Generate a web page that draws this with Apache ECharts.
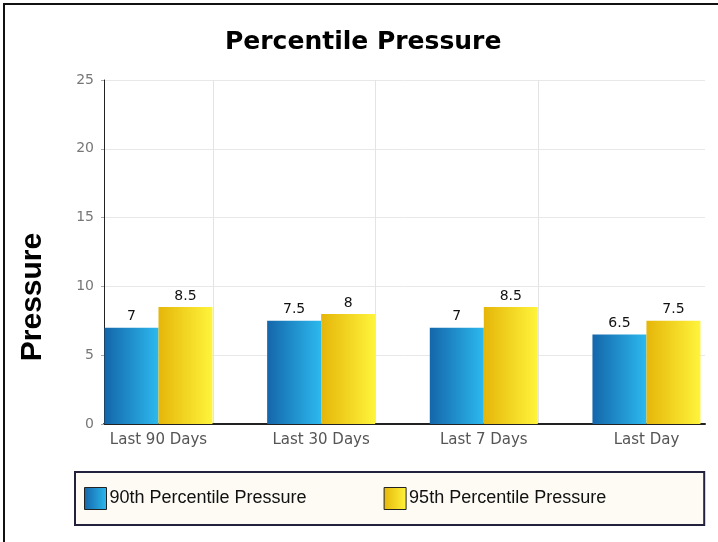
<!DOCTYPE html>
<html>
<head>
<meta charset="utf-8">
<script src="https://cdn.jsdelivr.net/npm/echarts@6/dist/echarts.min.js"></script>
<style>
html,body{margin:0;padding:0;background:#fff;}
#chart{width:718px;height:542px;}
</style>
</head>
<body>
<div id="chart"></div>
<script>
var categories = ['Last 90 Days', 'Last 30 Days', 'Last 7 Days', 'Last Day'];
var seriesNames = ['90th Percentile Pressure', '95th Percentile Pressure'];
var p90 = [7, 7.5, 7, 6.5];
var p95 = [8.5, 8, 8.5, 7.5];
var yMin = 0, yMax = 25, yStep = 5;
var categoryPositions = [0, 1, 2, 3];
var dividerPositions = [0.335, 1.335, 2.335];

function grad(c0, c1) {
  return new echarts.graphic.LinearGradient(0, 0, 1, 0, [
    {offset: 0, color: c0}, {offset: 1, color: c1}
  ]);
}
var blue = grad('#1466aa', '#2cb9ee');
var yellow = grad('#e5b60a', '#fff43c');

var chart = echarts.init(document.getElementById('chart'), null, {renderer: 'canvas'});
var labelStyle = {show: true, position: 'top', distance: 4, color: '#111',
  fontFamily: 'DejaVu Sans', fontSize: 14};

chart.setOption({
  backgroundColor: '#fff',
  animation: false,
  title: {
    text: 'Percentile Pressure', left: 220, top: 25,
    textStyle: {fontFamily: 'DejaVu Sans', fontWeight: 'bold', fontSize: 25, color: '#000'}
  },
  graphic: [{
    type: 'rect', silent: true,
    shape: {x: 4, y: 4, width: 900, height: 900},
    style: {fill: null, stroke: '#111', lineWidth: 2}
  }],
  grid: {left: 104, right: 13, top: 80, bottom: 118, containLabel: false},
  legend: {
    left: 75, top: 472, orient: 'horizontal',
    data: seriesNames,
    icon: 'rect', itemWidth: 22, itemHeight: 22, itemGap: 77,
    padding: [15, 98, 15, 9],
    backgroundColor: '#fdfbf4', borderColor: '#22223c', borderWidth: 2,
    itemStyle: {borderColor: '#222', borderWidth: 1},
    textStyle: {fontFamily: 'Liberation Sans', fontSize: 18, color: '#111', padding: [0, 0, 0, -2]}
  },
  xAxis: {
    type: 'value', min: -0.335, max: 3.36,
    axisLine: {show: true, onZero: false, lineStyle: {color: '#222', width: 2}},
    axisTick: {show: false, customValues: dividerPositions},
    splitLine: {show: true, lineStyle: {color: '#e4e4e4', width: 1}},
    axisLabel: {
      customValues: categoryPositions, margin: 9,
      color: '#555', fontFamily: 'DejaVu Sans', fontSize: 15,
      formatter: function (v) { return categories[Math.round(v)]; }
    }
  },
  yAxis: {
    type: 'value', min: yMin, max: yMax, interval: yStep,
    name: 'Pressure', nameLocation: 'middle', nameGap: 56,
    nameTextStyle: {fontFamily: 'Liberation Sans', fontWeight: 'bold', fontSize: 30, color: '#000', padding: [0, 90, 0, 0]},
    axisLine: {show: true, onZero: false, lineStyle: {color: '#222', width: 1}},
    axisTick: {show: true, length: 3, lineStyle: {color: '#aaa'}},
    splitLine: {show: true, lineStyle: {color: '#e8e8e8'}},
    axisLabel: {color: '#777', fontFamily: 'DejaVu Sans', fontSize: 14, margin: 10}
  },
  series: [{
    name: seriesNames[0], type: 'bar', barWidth: 54, barGap: '0%',
    itemStyle: {color: blue},
    label: labelStyle,
    data: p90.map(function (v, i) { return [categoryPositions[i], v]; })
  }, {
    name: seriesNames[1], type: 'bar', barWidth: 54, barGap: '0%',
    itemStyle: {color: yellow},
    label: labelStyle,
    data: p95.map(function (v, i) { return [categoryPositions[i], v]; })
  }]
});
</script>
</body>
</html>
